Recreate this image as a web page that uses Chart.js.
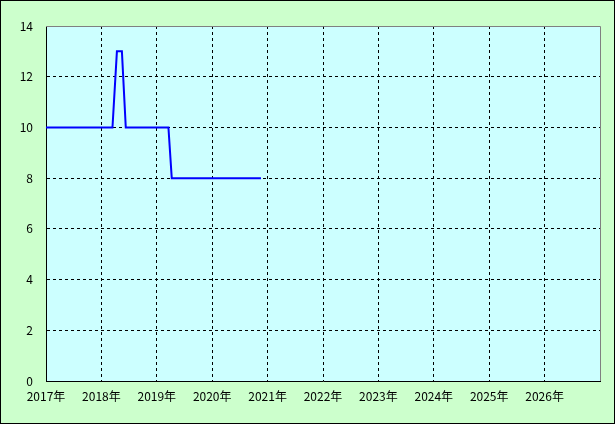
<!DOCTYPE html>
<html>
<head>
<meta charset="utf-8">
<script src="https://cdn.jsdelivr.net/npm/chart.js@4"></script>
<style>
  html, body { margin: 0; padding: 0; background: #ccffcc; }
  #wrap { width: 615px; height: 424px; }
</style>
</head>
<body>
<div id="wrap"><canvas id="chart" width="615" height="424"></canvas></div>
<script>
// Values (x as fractional year)
const xYears = [2017.0, 2018.2, 2018.28, 2018.37, 2018.44, 2019.21, 2019.27, 2020.88];
const yValues = [10, 10, 13, 13, 10, 10, 8, 8];
const yearTicks = [2017, 2018, 2019, 2020, 2021, 2022, 2023, 2024, 2025, 2026];
const yTicks = [0, 2, 4, 6, 8, 10, 12, 14];

const FONT = { family: '"Noto Sans CJK JP", "Noto Sans", sans-serif', size: 12 };

// Backgrounds, plot frame and outer border
const framePlugin = {
    id: 'frame',
    beforeDraw(chart) {
        const { ctx, chartArea: a } = chart;
        ctx.save();
        ctx.fillStyle = '#ccffcc';
        ctx.fillRect(0, 0, chart.width, chart.height);
        ctx.fillStyle = '#ccffff';
        ctx.fillRect(a.left, a.top, a.right - a.left, a.bottom - a.top);
        ctx.restore();
    },
    afterDraw(chart) {
        const { ctx, chartArea: a } = chart;
        ctx.save();
        ctx.lineWidth = 1;
        ctx.strokeStyle = '#808080';
        ctx.beginPath();
        ctx.moveTo(a.left, Math.round(a.top) + 0.5);
        ctx.lineTo(Math.round(a.right) + 0.5, Math.round(a.top) + 0.5);
        ctx.lineTo(Math.round(a.right) + 0.5, a.bottom);
        ctx.stroke();
        ctx.strokeStyle = '#000';
        ctx.strokeRect(0.5, 0.5, chart.width - 1, chart.height - 1);
        ctx.restore();
    }
};

const ctx = document.getElementById('chart').getContext('2d');
new Chart(ctx, {
    type: 'line',
    data: {
        datasets: [{
            data: xYears.map((x, i) => ({ x: x, y: yValues[i] })),
            borderColor: '#0000ff',
            borderWidth: 2,
            pointRadius: 0,
            tension: 0,
            fill: false
        }]
    },
    options: {
        responsive: false,
        animation: false,
        layout: { padding: { top: 26, right: 15, left: 0, bottom: 0 } },
        plugins: { legend: { display: false }, tooltip: { enabled: false } },
        scales: {
            x: {
                type: 'linear',
                min: 2017,
                max: 2027,
                afterBuildTicks: s => { s.ticks = yearTicks.concat([2027]).map(v => ({ value: v })); },
                afterFit: s => { s.height = 43; },
                ticks: {
                    color: '#000',
                    font: FONT,
                    padding: 8,
                    maxRotation: 0,
                    autoSkip: false,
                    callback: v => (v < 2027 ? v + '年' : '')
                },
                grid: {
                    drawTicks: false,
                    color: c => (c.tick && c.tick.value > 2017 && c.tick.value < 2027 ? '#000' : 'rgba(0,0,0,0)'),
                    lineWidth: 1
                },
                border: { display: true, color: '#000', width: 1, dash: [3, 3] }
            },
            y: {
                min: 0,
                max: 14,
                afterBuildTicks: s => { s.ticks = yTicks.map(v => ({ value: v })); },
                afterFit: s => { s.width = 46; },
                ticks: { color: '#000', font: FONT, padding: 13 },
                grid: {
                    drawTicks: false,
                    color: c => (c.tick && c.tick.value > 0 && c.tick.value < 14 ? '#000' : 'rgba(0,0,0,0)'),
                    lineWidth: 1
                },
                border: { display: true, color: '#000', width: 1, dash: [3, 3] }
            }
        }
    },
    plugins: [framePlugin]
});
</script>
</body>
</html>
